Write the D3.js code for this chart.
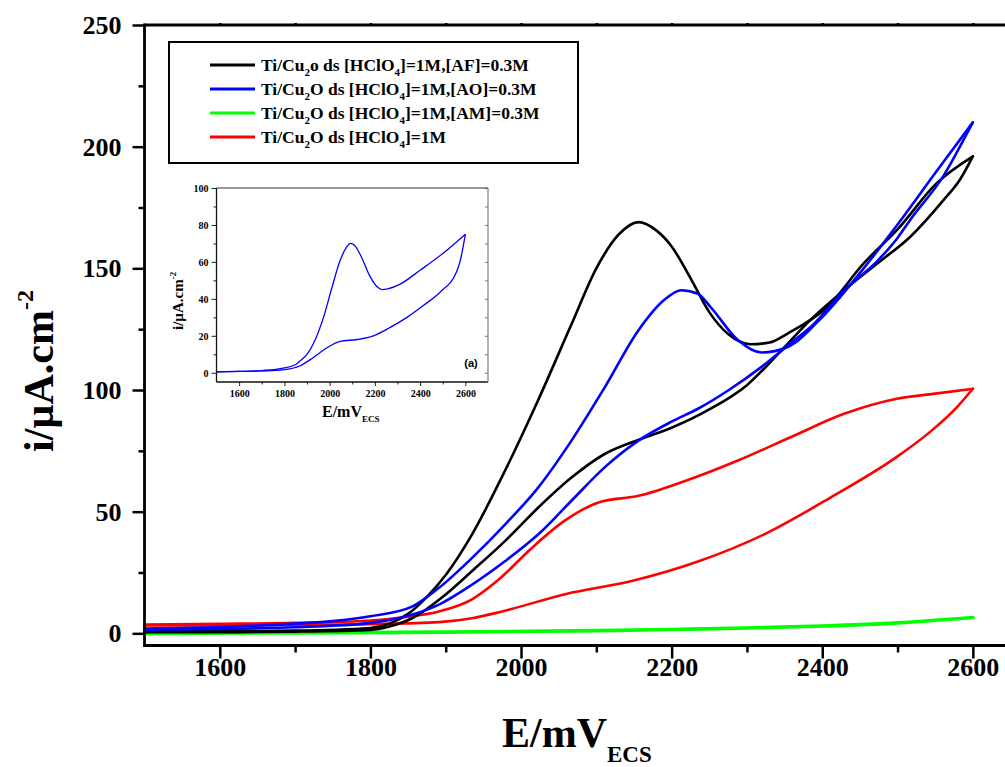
<!DOCTYPE html>
<html><head><meta charset="utf-8">
<script src="https://cdn.jsdelivr.net/npm/d3@7"></script>
<style>
html,body{margin:0;padding:0;background:#fff;}
svg{display:block;}
text{font-family:"Liberation Serif","Times New Roman",serif;font-weight:bold;fill:#000;}
</style></head>
<body>
<svg id="chart" width="1005" height="767"></svg>
<script>
// ---------------- DATA ----------------
// Ti/Cu2O in [HClO4]=1M,[AF]=0.3M (black)
const E_AF_fwd = [1500,1600,1700,1800,1825,1850,1875,1900,1935,1979,2023,2067,2100,2130,2156,2180,2200,2225,2250,2275,2305,2330,2354,2407,2455,2500,2552,2600];
const I_AF_fwd = [0.8,0.9,1.1,2.2,4,8,15,24,40.7,67,96,127,150,164,169,165.5,159,146,132,123,118.8,119.5,123.2,134.2,152,166,185,196];
const E_AF_rev = [2600,2583,2561,2517,2473,2429,2385,2345,2300,2250,2200,2160,2111,2067,2023,1979,1935,1900,1856,1825,1800,1700,1600,1500];
const I_AF_rev = [196,186.5,178,163,152,141,129,116,102,92,84.5,80,73.7,64,51.7,38,25.6,16,6.3,2.8,1.4,0.7,0.5,0.5];
// [AO]=0.3M (blue)
const E_AO_fwd = [1500,1600,1700,1750,1800,1856,1891,1935,1979,2023,2067,2111,2156,2190,2213,2235,2252,2288,2319,2354,2400,2455,2500,2552,2600];
const I_AO_fwd = [2.0,2.6,4.0,5.0,7.0,11.1,18.7,31,44.8,60,79.2,101,124.6,137,141,139.5,134,120.5,115.4,117.7,130,150,168,190,210];
const E_AO_rev = [2600,2588,2561,2517,2500,2473,2429,2385,2363,2319,2275,2235,2200,2156,2111,2067,2023,1979,1935,1891,1856,1800,1700,1600,1500];
const I_AO_rev = [210,203,188,170,162.5,153,141,126,120.5,109.4,99.8,92.3,87,79.2,68.2,54.5,40.7,29.7,20,11.8,7.7,4.3,2.5,1.8,1.5];
// [AM]=0.3M (green)
const E_AM = [1500,1700,1900,2100,2200,2300,2400,2500,2600];
const I_AM = [0,0.2,0.5,1.1,1.6,2.2,3.0,4.3,6.5];
// [HClO4]=1M only (red)
const E_H_fwd = [1500,1600,1700,1800,1850,1891,1935,1970,2014,2059,2103,2156,2217,2288,2358,2429,2499,2550,2600];
const I_H_fwd = [3.6,3.9,4.3,5.3,6.8,9.0,14.0,22,35,46.5,53.8,56.5,62.5,71,80.6,90.2,96.4,98.5,100.5];
const E_H_rev = [2600,2579,2544,2499,2411,2323,2235,2147,2060,1975,1935,1891,1800,1700,1600,1500];
const I_H_rev = [100.5,93,83,72.5,55.8,40.7,29.5,21.5,16.2,9.0,6.2,4.6,3.8,3.5,3.3,3.2];
// Inset (a)
const E_in_fwd = [1500,1600,1700,1795,1850,1870,1900,1928,1973,2010,2047,2075,2091,2110,2135,2179,2210,2232,2260,2312,2400,2500,2600];
const I_in_fwd = [0.5,0.7,1.2,2.5,4.5,6.5,10,15.7,30,46,61,68,70,69,64,52,46.5,45,45.5,48,55.5,64.5,75];
const E_in_rev = [2600,2578,2562,2488,2414,2342,2268,2193,2121,2046,1990,1928,1870,1795,1700,1600,1500];
const I_in_rev = [75,61,55,43.6,36.4,30,24.6,20,18,17,13.7,8.3,3.8,1.6,1.0,0.7,0.5];

const xMajor = [1600,1800,2000,2200,2400,2600];
const xMinor = [1700,1900,2100,2300,2500];
const yMajor = [0,50,100,150,200,250];
const yMinor = [25,75,125,175,225];
const inXMajor = [1600,1800,2000,2200,2400,2600];
const inXMinor = [1700,1900,2100,2300,2500];
const inYMajor = [0,20,40,60,80,100];
const inYMinor = [10,30,50,70,90];

const legendLabels = [
  {color:"#000000", pre:"Ti/Cu", s1:"2", mid:"o ds [HClO", s2:"4", post:"]=1M,[AF]=0.3M"},
  {color:"#0000ff", pre:"Ti/Cu", s1:"2", mid:"O ds [HClO", s2:"4", post:"]=1M,[AO]=0.3M"},
  {color:"#00ff00", pre:"Ti/Cu", s1:"2", mid:"O ds [HClO", s2:"4", post:"]=1M,[AM]=0.3M"},
  {color:"#ff0000", pre:"Ti/Cu", s1:"2", mid:"O ds [HClO", s2:"4", post:"]=1M"}
];

// ---------------- DRAW ----------------
const svg = d3.select("#chart");
const x = d3.scaleLinear().domain([1500,2650]).range([144.5,1010.5]);
const y = d3.scaleLinear().domain([-5,250]).range([645.5,25]);

// pairs sorted by ascending potential so a monotone spline can be used on each sweep
const zip = (E,I) => E.map((e,i)=>[e,I[i]]).sort((a,b)=>a[0]-b[0]);
const line = d3.line().x(d=>x(d[0])).y(d=>y(d[1])).curve(d3.curveMonotoneX);

const curves = [
  {d:zip(E_H_fwd,I_H_fwd), c:"#ff0000", w:2.6},
  {d:zip(E_H_rev,I_H_rev), c:"#ff0000", w:2.6},
  {d:zip(E_AM,I_AM), c:"#00ff00", w:3.6},
  {d:zip(E_AF_fwd,I_AF_fwd), c:"#000000", w:2.6},
  {d:zip(E_AF_rev,I_AF_rev), c:"#000000", w:2.6},
  {d:zip(E_AO_fwd,I_AO_fwd), c:"#0000ff", w:2.6},
  {d:zip(E_AO_rev,I_AO_rev), c:"#0000ff", w:2.6}
];
svg.append("g").selectAll("path").data(curves).join("path")
  .attr("d", d=>line(d.d)).attr("fill","none")
  .attr("stroke", d=>d.c).attr("stroke-width", d=>d.w)
  .attr("stroke-linejoin","round").attr("stroke-linecap","round");

// axes
function styleAxis(g){ g.select(".domain").remove(); g.selectAll("line").attr("stroke","#000").attr("stroke-width",2.5); }
const xb = svg.append("g").attr("transform",`translate(0,${y(-5)})`);
xb.append("g").call(d3.axisBottom(x).tickValues(xMajor).tickSize(13).tickFormat(d3.format("d"))).call(styleAxis)
  .selectAll("text").attr("font-size",26).attr("y",30).attr("dy","0").style("font-family","Liberation Serif").style("font-weight","bold");
xb.append("g").call(d3.axisBottom(x).tickValues(xMinor).tickSize(7).tickFormat("")).call(styleAxis);
const xt = svg.append("g").attr("transform",`translate(0,${y(250)})`);
xt.append("g").call(d3.axisTop(x).tickValues(xMajor.concat(xMinor)).tickSize(2).tickFormat("")).call(styleAxis);

const yl = svg.append("g").attr("transform",`translate(${x(1500)},0)`);
yl.append("g").call(d3.axisLeft(y).tickValues(yMajor).tickSize(12).tickFormat(d3.format("d"))).call(styleAxis)
  .selectAll("text").attr("font-size",26).attr("x",-23).attr("dy","0.33em").style("font-family","Liberation Serif").style("font-weight","bold");
yl.append("g").call(d3.axisLeft(y).tickValues(yMinor).tickSize(6).tickFormat("")).call(styleAxis);

// axis lines
svg.append("line").attr("x1",x(1500)).attr("x2",1005).attr("y1",y(-5)).attr("y2",y(-5)).attr("stroke","#000").attr("stroke-width",2.8);
svg.append("line").attr("x1",x(1500)).attr("x2",1005).attr("y1",y(250)).attr("y2",y(250)).attr("stroke","#000").attr("stroke-width",2.8);
svg.append("line").attr("x1",x(1500)).attr("x2",x(1500)).attr("y1",y(250)-1.4).attr("y2",y(-5)+1.4).attr("stroke","#000").attr("stroke-width",2.8);

// axis titles
const xt2 = svg.append("text").attr("x",502).attr("y",747).attr("font-size",42);
xt2.append("tspan").text("E/mV");
xt2.append("tspan").attr("font-size",23).attr("dy",15).text("ECS");
const yt = svg.append("text").attr("transform","translate(53,452) rotate(-90)").attr("font-size",42);
yt.append("tspan").text("i/µA.cm");
yt.append("tspan").attr("font-size",24).attr("dy",-20).text("-2");

// legend
const lg = svg.append("g");
lg.append("rect").attr("x",169).attr("y",42).attr("width",409).attr("height",121)
  .attr("fill","#fff").attr("stroke","#000").attr("stroke-width",2);
legendLabels.forEach((L,i)=>{
  const ry = 65 + i*24;
  lg.append("line").attr("x1",210).attr("x2",255).attr("y1",ry).attr("y2",ry).attr("stroke",L.color).attr("stroke-width",3);
  const t = lg.append("text").attr("x",261).attr("y",ry+6).attr("font-size",17.5);
  t.append("tspan").text(L.pre);
  t.append("tspan").attr("font-size",11).attr("dy",5).text(L.s1);
  t.append("tspan").attr("dy",-5).text(L.mid);
  t.append("tspan").attr("font-size",11).attr("dy",5).text(L.s2);
  t.append("tspan").attr("dy",-5).text(L.post);
});

// ---------------- INSET ----------------
const xi = d3.scaleLinear().domain([1500,2700]).range([216.5,488]);
const yi = d3.scaleLinear().domain([-5,100]).range([382,188]);
const ig = svg.append("g");
ig.append("rect").attr("x",216.5).attr("y",188).attr("width",271.5).attr("height",194).attr("fill","#fff");
const lineI = d3.line().x(d=>xi(d[0])).y(d=>yi(d[1])).curve(d3.curveMonotoneX);
[zip(E_in_fwd,I_in_fwd), zip(E_in_rev,I_in_rev)].forEach(dd=>{
  ig.append("path").attr("d",lineI(dd)).attr("fill","none").attr("stroke","#0000ff").attr("stroke-width",1.3);
});
function styleI(g){ g.select(".domain").remove(); g.selectAll("line").attr("stroke","#222").attr("stroke-width",1); }
const ixb = ig.append("g").attr("transform",`translate(0,382)`);
ixb.append("g").call(d3.axisBottom(xi).tickValues(inXMajor).tickSize(4).tickFormat(d3.format("d"))).call(styleI)
  .selectAll("text").attr("font-size",10).attr("y",15).attr("dy","0").style("font-family","Liberation Serif").style("font-weight","bold");
ixb.append("g").call(d3.axisBottom(xi).tickValues(inXMinor).tickSize(2.5).tickFormat("")).call(styleI);
const iyl = ig.append("g").attr("transform",`translate(216.5,0)`);
iyl.append("g").call(d3.axisLeft(yi).tickValues(inYMajor).tickSize(5).tickFormat(d3.format("d"))).call(styleI)
  .selectAll("text").attr("font-size",10).attr("x",-8).attr("dy","0.33em").style("font-family","Liberation Serif").style("font-weight","bold");
iyl.append("g").call(d3.axisLeft(yi).tickValues(inYMinor).tickSize(3).tickFormat("")).call(styleI);
const iyr = ig.append("g").attr("transform",`translate(488,0)`);
iyr.append("g").call(d3.axisLeft(yi).tickValues(inYMajor.concat(inYMinor)).tickSize(3).tickFormat("")).call(g=>{g.select(".domain").remove(); g.selectAll("line").attr("stroke","#777").attr("stroke-width",1);});
ig.append("line").attr("x1",216.5).attr("x2",488).attr("y1",188).attr("y2",188).attr("stroke","#333").attr("stroke-width",1);
ig.append("line").attr("x1",216.5).attr("x2",488).attr("y1",382).attr("y2",382).attr("stroke","#111").attr("stroke-width",1.3);
ig.append("line").attr("x1",216.5).attr("x2",216.5).attr("y1",188).attr("y2",382).attr("stroke","#111").attr("stroke-width",1.3);
ig.append("line").attr("x1",488).attr("x2",488).attr("y1",188).attr("y2",382).attr("stroke","#888").attr("stroke-width",1.3);
const ixt = ig.append("text").attr("x",322).attr("y",417).attr("font-size",16);
ixt.append("tspan").text("E/mV");
ixt.append("tspan").attr("font-size",9).attr("dy",5).text("ECS");
const iyt = ig.append("text").attr("transform","translate(183,330) rotate(-90)").attr("font-size",15);
iyt.append("tspan").text("i/µA.cm");
iyt.append("tspan").attr("font-size",9).attr("dy",-7).text("-2");
ig.append("text").attr("x",471).attr("y",367).attr("text-anchor","middle").attr("font-size",11)
  .style("font-family","Liberation Sans, Arial, sans-serif").text("(a)");
</script>
</body></html>
